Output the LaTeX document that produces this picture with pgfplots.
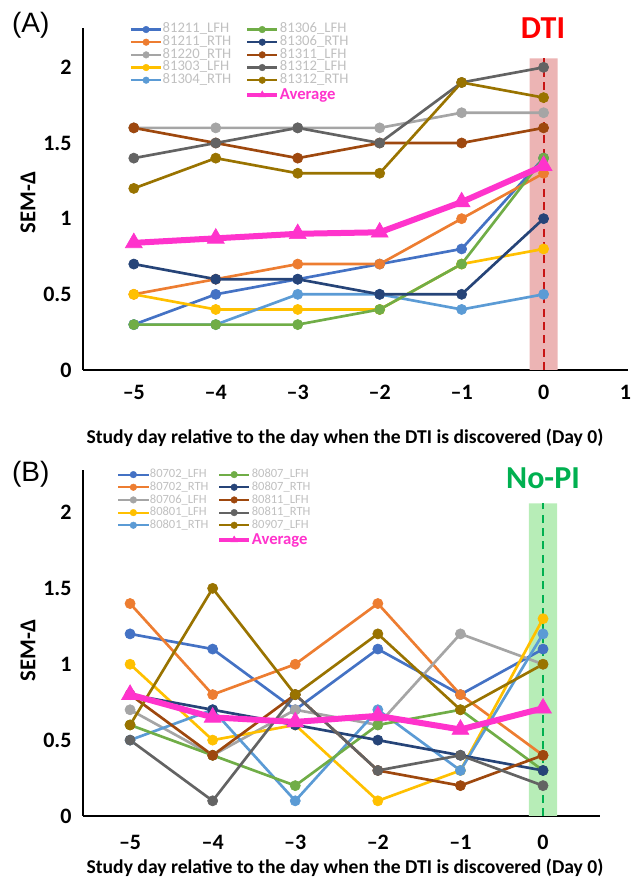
\documentclass[border=0pt]{standalone}
\usepackage{fontspec}
\setmainfont{Carlito}
\newfontfamily\arialfont{Liberation Sans}
\usepackage{pgfplots}
\pgfplotsset{compat=1.18}

\definecolor{c1}{HTML}{4472C4}
\definecolor{c2}{HTML}{ED7D31}
\definecolor{c3}{HTML}{A5A5A5}
\definecolor{c4}{HTML}{FFC000}
\definecolor{c5}{HTML}{5B9BD5}
\definecolor{c6}{HTML}{70AD47}
\definecolor{c7}{HTML}{264478}
\definecolor{c8}{HTML}{9E480E}
\definecolor{c9}{HTML}{636363}
\definecolor{c10}{HTML}{997300}
\definecolor{avgc}{HTML}{FF33CC}
\definecolor{legtext}{HTML}{C0C0C0}
\definecolor{bandA}{RGB}{236,180,180}
\definecolor{bandB}{RGB}{183,237,183}
\definecolor{dashA}{RGB}{200,20,20}
\definecolor{dashB}{HTML}{00B050}

\pgfplotsset{
  ser/.style={color=#1, line width=2pt, mark=*, mark size=3.8pt,
    mark options={solid, fill=#1, draw=#1, line width=0.5pt}},
  lser/.style={color=#1, line width=1.6pt, mark=*, mark size=2.5pt,
    mark options={solid, fill=#1, draw=#1, line width=0.3pt}},
  lavg/.style={color=avgc, line width=3.2pt, mark=triangle*, mark size=3pt,
    mark options={solid, fill=avgc, line width=0.3pt}},
  avg/.style={color=avgc, line width=4.5pt, mark=triangle*, mark size=7.3pt,
    mark options={solid, fill=avgc, line width=0.5pt}},
  panel/.style={
    scale only axis,
    axis lines=left,
    axis line style={-, line width=1.3pt, black},
    tick style={draw=none},
    ymin=0,
    ytick={0,0.5,1,1.5,2},
    yticklabels={0,0.5,1,1.5,2},
    ticklabel style={font=\bfseries\fontsize{16.5}{16.5}\selectfont},
    xticklabel style={yshift=-6pt},
    yticklabel style={xshift=-3pt},
    clip=false,
    legend columns=2,
    legend cell align=left,
    legend image code/.code={
      \draw[mark repeat=2, mark phase=2]
        plot coordinates {(0cm,0cm) (0.4cm,0cm) (0.8cm,0cm)};},
    legend style={draw=none, fill=none, text=legtext,
      inner sep=0pt, outer sep=0pt,
      nodes={inner sep=0.25pt, text height=7pt, text depth=2pt}},
  },
}

\begin{document}
\begin{tikzpicture}
\path (0,0) rectangle (480.75pt,663.75pt);

% ---------- panel A ----------
\begin{axis}[panel,
  at={(62.25pt,386.25pt)}, anchor=south west,
  width=408.75pt, height=256.5pt,
  xmin=-5.62, xmax=1.03, ymax=2.26,
  xtick={-5,-4,-3,-2,-1,0,1},
  xticklabels={\textendash5,\textendash4,\textendash3,\textendash2,\textendash1,0,1},
  legend style={at={(0.086,1.014)}, anchor=north west,
    font=\fontsize{11}{11}\selectfont,
    /tikz/every even column/.append style={column sep=10pt}},
]
\addplot[draw=none, fill=bandA, forget plot] coordinates {(-0.17,0) (-0.17,2.06) (0.17,2.06) (0.17,0)} \closedcycle;
\addplot[dashA, line width=1.5pt, dash pattern=on 6pt off 4pt, forget plot] coordinates {(0,0) (0,2.06)};
\addplot[ser=c1, forget plot] coordinates {(-5,0.3) (-4,0.5) (-3,0.6) (-2,0.7) (-1,0.8) (0,1.4)};
\addplot[ser=c2, forget plot] coordinates {(-5,0.5) (-4,0.6) (-3,0.7) (-2,0.7) (-1,1.0) (0,1.3)};
\addplot[ser=c3, forget plot] coordinates {(-5,1.6) (-4,1.6) (-3,1.6) (-2,1.6) (-1,1.7) (0,1.7)};
\addplot[ser=c4, forget plot] coordinates {(-5,0.5) (-4,0.4) (-3,0.4) (-2,0.4) (-1,0.7) (0,0.8)};
\addplot[ser=c5, forget plot] coordinates {(-5,0.3) (-4,0.3) (-3,0.5) (-2,0.5) (-1,0.4) (0,0.5)};
\addplot[ser=c6, forget plot] coordinates {(-5,0.3) (-4,0.3) (-3,0.3) (-2,0.4) (-1,0.7) (0,1.4)};
\addplot[ser=c7, forget plot] coordinates {(-5,0.7) (-4,0.6) (-3,0.6) (-2,0.5) (-1,0.5) (0,1.0)};
\addplot[ser=c8, forget plot] coordinates {(-5,1.6) (-4,1.5) (-3,1.4) (-2,1.5) (-1,1.5) (0,1.6)};
\addplot[ser=c9, forget plot] coordinates {(-5,1.4) (-4,1.5) (-3,1.6) (-2,1.5) (-1,1.9) (0,2.0)};
\addplot[ser=c10, forget plot] coordinates {(-5,1.2) (-4,1.4) (-3,1.3) (-2,1.3) (-1,1.9) (0,1.8)};
\addplot[avg, forget plot] coordinates {(-5,0.84) (-4,0.87) (-3,0.90) (-2,0.91) (-1,1.11) (0,1.35)};
\addlegendimage{lser=c1}\addlegendentry{81211\_LFH}
\addlegendimage{lser=c6}\addlegendentry{81306\_LFH}
\addlegendimage{lser=c2}\addlegendentry{81211\_RTH}
\addlegendimage{lser=c7}\addlegendentry{81306\_RTH}
\addlegendimage{lser=c3}\addlegendentry{81220\_RTH}
\addlegendimage{lser=c8}\addlegendentry{81311\_LFH}
\addlegendimage{lser=c4}\addlegendentry{81303\_LFH}
\addlegendimage{lser=c9}\addlegendentry{81312\_LFH}
\addlegendimage{lser=c5}\addlegendentry{81304\_RTH}
\addlegendimage{lser=c10}\addlegendentry{81312\_RTH}
\addlegendimage{empty legend}\addlegendentry{}
\addlegendimage{lavg}
\addlegendentry[text height=9.5pt, text depth=2.5pt]{\textcolor{avgc}{\bfseries\fontsize{12.5}{12.5}\selectfont Average}}
\end{axis}

% ---------- panel B ----------
\begin{axis}[panel,
  at={(62.25pt,51.75pt)}, anchor=south west,
  width=387.75pt, height=259.5pt,
  xmin=-5.57, xmax=0.69, ymax=2.28,
  xtick={-5,-4,-3,-2,-1,0},
  xticklabels={\textendash5,\textendash4,\textendash3,\textendash2,\textendash1,0},
  xticklabel style={yshift=-3pt},
  legend style={at={(0.066,1.005)}, anchor=north west,
    font=\fontsize{9.4}{9.4}\selectfont,
    /tikz/every even column/.append style={column sep=6pt}},
]
\addplot[draw=none, fill=bandB, forget plot] coordinates {(-0.17,0) (-0.17,2.06) (0.17,2.06) (0.17,0)} \closedcycle;
\addplot[dashB, line width=1.5pt, dash pattern=on 6pt off 4pt, forget plot] coordinates {(0,0) (0,2.06)};
\addplot[ser=c1, forget plot] coordinates {(-5,1.2) (-4,1.1) (-3,0.7) (-2,1.1) (-1,0.8) (0,1.1)};
\addplot[ser=c2, forget plot] coordinates {(-5,1.4) (-4,0.8) (-3,1.0) (-2,1.4) (-1,0.8) (0,0.4)};
\addplot[ser=c3, forget plot] coordinates {(-5,0.7) (-4,0.4) (-3,0.7) (-2,0.6) (-1,1.2) (0,1.0)};
\addplot[ser=c4, forget plot] coordinates {(-5,1.0) (-4,0.5) (-3,0.6) (-2,0.1) (-1,0.3) (0,1.3)};
\addplot[ser=c5, forget plot] coordinates {(-5,0.5) (-4,0.7) (-3,0.1) (-2,0.7) (-1,0.3) (0,1.2)};
\addplot[ser=c6, forget plot] coordinates {(-5,0.6) (-4,0.4) (-3,0.2) (-2,0.6) (-1,0.7) (0,0.3)};
\addplot[ser=c7, forget plot] coordinates {(-5,0.8) (-4,0.7) (-3,0.6) (-2,0.5) (-1,0.4) (0,0.3)};
\addplot[ser=c8, forget plot] coordinates {(-5,0.8) (-4,0.4) (-3,0.8) (-2,0.3) (-1,0.2) (0,0.4)};
\addplot[ser=c9, forget plot] coordinates {(-5,0.5) (-4,0.1) (-3,0.8) (-2,0.3) (-1,0.4) (0,0.2)};
\addplot[ser=c10, forget plot] coordinates {(-5,0.6) (-4,1.5) (-3,0.8) (-2,1.2) (-1,0.7) (0,1.0)};
\addplot[avg, forget plot] coordinates {(-5,0.80) (-4,0.65) (-3,0.62) (-2,0.66) (-1,0.57) (0,0.71)};
\addlegendimage{lser=c1}\addlegendentry{80702\_LFH}
\addlegendimage{lser=c6}\addlegendentry{80807\_LFH}
\addlegendimage{lser=c2}\addlegendentry{80702\_RTH}
\addlegendimage{lser=c7}\addlegendentry{80807\_RTH}
\addlegendimage{lser=c3}\addlegendentry{80706\_LFH}
\addlegendimage{lser=c8}\addlegendentry{80811\_LFH}
\addlegendimage{lser=c4}\addlegendentry{80801\_LFH}
\addlegendimage{lser=c9}\addlegendentry{80811\_RTH}
\addlegendimage{lser=c5}\addlegendentry{80801\_RTH}
\addlegendimage{lser=c10}\addlegendentry{80907\_LFH}
\addlegendimage{empty legend}\addlegendentry{}
\addlegendimage{lavg}
\addlegendentry[text height=9.5pt, text depth=2.5pt]{\textcolor{avgc}{\bfseries\fontsize{12.5}{12.5}\selectfont Average}}
\end{axis}

% ---------- texts ----------
\node[font=\arialfont\fontsize{21}{21}\selectfont] at (23pt,645pt) {(A)};
\node[font=\arialfont\fontsize{21}{21}\selectfont] at (23pt,308.25pt) {(B)};
\node[font=\bfseries\fontsize{24}{24}\selectfont, text=red] at (407.25pt,642.75pt) {DTI};
\node[font=\bfseries\fontsize{24}{24}\selectfont, text=dashB] at (407.25pt,305.25pt) {No-PI};
\node[font=\bfseries\fontsize{17}{17}\selectfont, rotate=90] at (21pt,512pt) {SEM-Δ};
\node[font=\bfseries\fontsize{17}{17}\selectfont, rotate=90] at (21pt,176pt) {SEM-Δ};
\node[font=\bfseries\fontsize{14.7}{14.7}\selectfont] at (258.75pt,335.25pt) {Study day relative to the day when the DTI is discovered (Day 0)};
\node[font=\bfseries\fontsize{14.7}{14.7}\selectfont] at (258.75pt,13pt) {Study day relative to the day when the DTI is discovered (Day 0)};
\end{tikzpicture}
\end{document}
